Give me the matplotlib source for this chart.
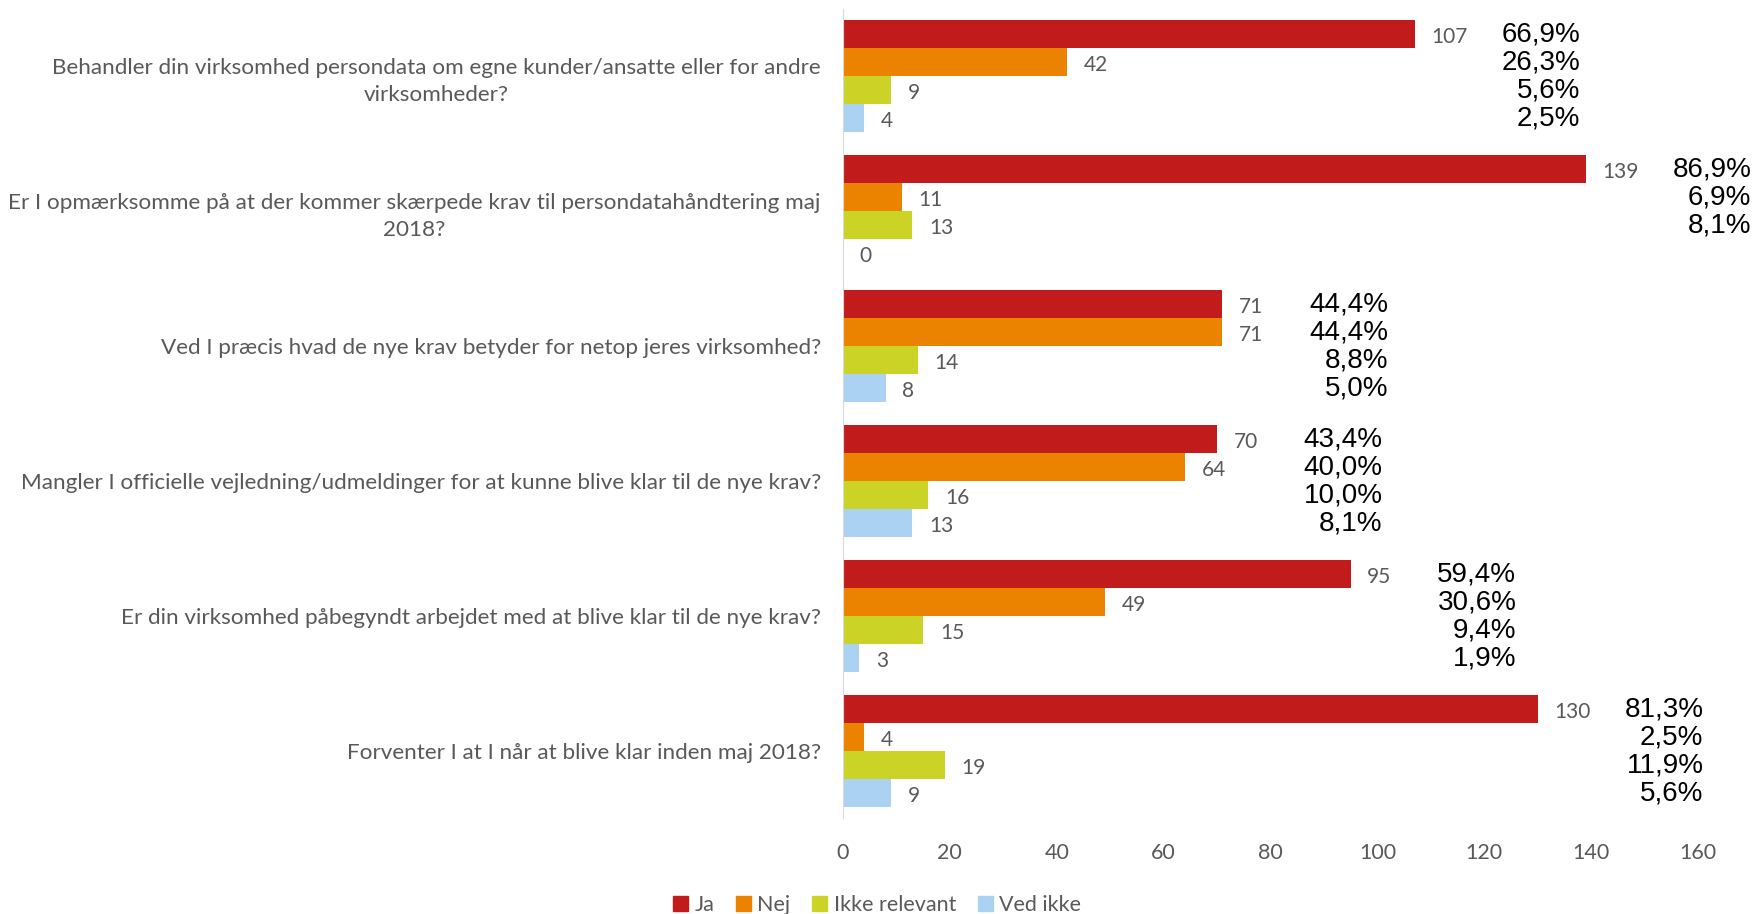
import numpy as np
import matplotlib.pyplot as plt
from matplotlib.patches import Patch

# Spørgsmål (kategorier)
spoergsmaal = [
    "Behandler din virksomhed persondata om egne kunder/ansatte eller for andre\nvirksomheder?",
    "Er I opmærksomme på at der kommer skærpede krav til persondatahåndtering maj\n2018?",
    "Ved I præcis hvad de nye krav betyder for netop jeres virksomhed?",
    "Mangler I officielle vejledning/udmeldinger for at kunne blive klar til de nye krav?",
    "Er din virksomhed påbegyndt arbejdet med at blive klar til de nye krav?",
    "Forventer I at I når at blive klar inden maj 2018?",
]

serier = ["Ja", "Nej", "Ikke relevant", "Ved ikke"]
ja = [107, 139, 71, 70, 95, 130]
nej = [42, 11, 71, 64, 49, 4]
ikke_relevant = [9, 13, 14, 16, 15, 19]
ved_ikke = [4, 0, 8, 13, 3, 9]

# Procenttal som de står i grafen (tom streng = ingen etiket)
pct_ja = ["66,9%", "86,9%", "44,4%", "43,4%", "59,4%", "81,3%"]
pct_nej = ["26,3%", "6,9%", "44,4%", "40,0%", "30,6%", "2,5%"]
pct_ikke = ["5,6%", "8,1%", "8,8%", "10,0%", "9,4%", "11,9%"]
pct_ved = ["2,5%", "", "5,0%", "8,1%", "1,9%", "5,6%"]

farver = ["#C21B1B", "#EB8300", "#CBD326", "#ABD2F3"]
graa = "#595959"
skrift = "Lato"

data = [ja, nej, ikke_relevant, ved_ikke]
pct = [pct_ja, pct_nej, pct_ikke, pct_ved]

fig = plt.figure(figsize=(17.54, 9.14), dpi=100)
ax = fig.add_axes([0.4806, 0.105, 0.4875, 0.8857])

y = np.arange(len(spoergsmaal))
h = 0.2076
offsets = (np.arange(4) - 1.5) * h

for i in range(4):
    ax.barh(y + offsets[i], data[i], height=h, color=farver[i], label=serier[i])
    for j, v in enumerate(data[i]):
        ax.annotate(str(v), (v, y[j] + offsets[i]), xytext=(12, -2.5), textcoords="offset points",
                    va="center", ha="left", fontsize=15, color=graa, family=skrift)

# procentetiketter til højre for hver gruppe
for j in range(len(spoergsmaal)):
    xmax = max(d[j] for d in data) + 31
    for i in range(4):
        if pct[i][j]:
            ax.text(xmax, y[j] + offsets[i] + 0.005, pct[i][j], ha="right", va="center",
                    fontsize=20, color="black", family="Liberation Sans", clip_on=False)

ax.set_xlim(0, 160)
ax.set_ylim(5.5, -0.5)
ax.set_xticks(np.arange(0, 161, 20))
ax.set_yticks(y)
ax.set_yticklabels(spoergsmaal, ha="right", multialignment="center", linespacing=1.45)
ax.tick_params(axis="both", length=0, colors=graa, labelsize=15.5)
ax.tick_params(axis="y", labelsize=16.2, pad=16)
ax.tick_params(axis="x", pad=18)
for lab in ax.get_xticklabels() + ax.get_yticklabels():
    lab.set_family(skrift)

for s in ["top", "right", "bottom"]:
    ax.spines[s].set_visible(False)
ax.spines["left"].set_color("#D9D9D9")

handles = [Patch(color=farver[i], label=serier[i]) for i in range(4)]
fig.legend(handles=handles, loc="lower center", bbox_to_anchor=(0.5, -0.022), ncol=4, frameon=False,
           handlelength=0.7, handleheight=0.7, handletextpad=0.3, columnspacing=1.0,
           prop={"family": skrift, "size": 15.5}, labelcolor=graa)

fig.savefig("out.png", dpi=100)
